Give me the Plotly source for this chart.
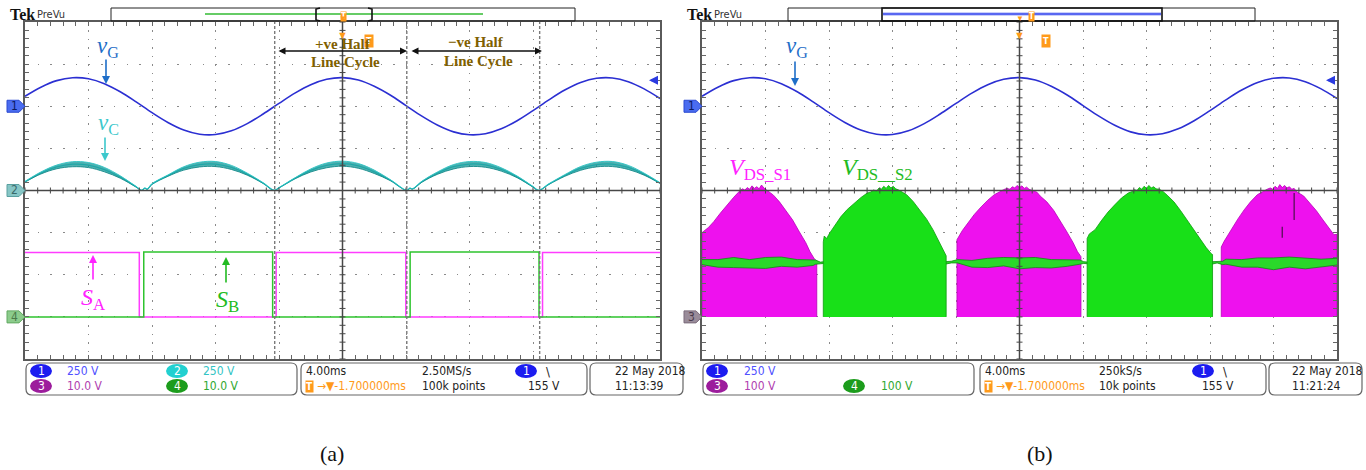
import plotly.graph_objects as go

W, H = 1366, 470
def X(p): return p / W
def Y(p): return 1 - p / H

# ============================ DATA ============================
# time in ms (10 div x 4.00 ms/div), 0 = expansion point (screen centre)
t_vg = [-20,-19,-18,-17,-16,-15,-14,-13,-12,-11,-10,-9,-8,-7,-6,-5,-4,-3,-2,-1,
        0,1,2,3,4,5,6,7,8,9,10,11,12,13,14,15,16,17,18,19,20]
# grid voltage v_G (V), channel 1
vg_a = [59,113,152,169,163,134,86,26,-38,-96,-141,-166,-168,-146,-103,-46,17,78,128,160,
        170,156,119,67,4,-59,-113,-152,-169,-163,-134,-86,-26,38,96,141,166,168,146,103,46]
vg_b = [59,113,152,169,163,134,86,26,-38,-96,-141,-166,-168,-146,-103,-46,17,78,128,160,
        170,156,119,67,4,-59,-113,-152,-169,-163,-134,-86,-26,38,96,141,166,168,146,103,46]

# capacitor voltage v_C (V), channel 2 : mid value and half width of the ripple band
t_vc = [-20,-19,-18,-17,-16,-15,-14,-13,-12.65,-12.45,-12.3,-12,-11,-10,-9,-8,-7,-6,-5,-4.3,
        -4,-3,-2,-1,0,1,2,3,4.05,4.25,4.4,5,6,7,8,9,10,11,12,12.35,13,14,15,16,17,18,19,20]
vc_mid = [52,104,140,156,151,124,80,22,1,14,8,38,88,131,154,157,137,97,44,1,
          16,72,119,149,159,146,111,62,1,14,9,52,104,141,157,152,125,81,22,1,38,89,131,154,157,137,97,44]
vc_nz = [2,6,11,15,15,13,7,2,1,1,1,2,4,10,14,15,12,6,2,1,
         1,3,9,14,15,14,10,3,1,1,1,3,7,13,15,14,10,5,2,1,2,5,11,14,15,12,6,2]

# gate signals S_A (ch3) and S_B (ch4), V
sa_t = [-20, -12.8, -4.18, 3.99, 12.6, 20]
sa_v = [15.3, 0, 15.3, 0, 15.3, 15.3]
sb_t = [-20, -12.52, -4.4, 4.26, 12.38, 20]
sb_v = [0, 15.4, 0, 15.4, 0, 0]
half_cycle_bounds = [-4.27, 4.05, 12.42]

# drain-source voltage envelopes (V) in (b); one list per conducting interval
s1_t = [[-20,-19.6,-19.26,-18.85,-18.43,-18.0,-17.6,-17.45,-17.3,-17.15,-17.0,-16.85,-16.7,-16.55,-16.4,-16.25,-16.1,-15.95,-15.75,-15.5,-15.12,-14.7,-14.29,-13.9,-13.46,-13.2,-12.91,-12.77],
        [-3.94,-3.6,-3.25,-2.85,-2.42,-2.0,-1.59,-1.2,-1.0,-0.8,-0.6,-0.45,-0.3,-0.15,0.0,0.15,0.3,0.45,0.6,0.8,1.1,1.3,1.72,2.15,2.55,2.95,3.38,3.65,3.87],
        [12.71,12.9,13.32,13.75,14.15,14.55,14.98,15.4,15.6,15.8,15.95,16.1,16.25,16.4,16.55,16.7,16.85,17.0,17.15,17.3,17.46,17.9,18.29,18.7,19.12,19.5,19.81,20]]
s1_v = [[200,212,226,246,266,284,300,304,301,307,303,311,305,309,304,313,306,302,297,289,273,252,230,204,176,155,137,133],
        [183,205,223,243,261,277,290,299,302,305,303,309,306,312,307,311,305,308,303,300,296,287,273,253,230,204,176,155,143],
        [166,180,207,232,254,273,290,300,303,306,303,310,305,314,307,312,306,309,303,305,297,287,271,252,230,210,195,196]]
s2_t = [[-12.36,-12.3,-12.15,-11.94,-11.6,-11.25,-10.85,-10.42,-10.0,-9.59,-9.4,-9.2,-9.0,-8.85,-8.7,-8.55,-8.4,-8.25,-8.1,-7.95,-7.8,-7.6,-7.35,-7.11,-6.7,-6.28,-5.85,-5.45,-5.1,-4.76,-4.62],
        [4.26,4.4,4.76,5.15,5.58,6.0,6.42,6.85,7.05,7.24,7.4,7.55,7.7,7.85,8.0,8.15,8.3,8.45,8.6,8.8,9.0,9.3,9.73,10.15,10.56,11.0,11.39,11.75,12.08,12.16]]
s2_v = [[178,192,186,200,220,238,255,270,283,294,296,301,299,306,303,310,305,312,306,310,304,301,296,290,274,254,232,207,180,152,145],
        [186,197,207,228,249,266,282,294,297,302,300,307,303,310,305,312,306,309,304,303,299,289,273,252,230,207,183,165,150,148]]
# S2 off-state voltage band (V) seen across the S1 intervals
band_t = [-20,-19,-18,-17,-16,-15,-14,-13,-12.85,-12.55,-12.3,-11,-10,-9,-8,-7,-6,-5,-4.7,-4.3,
          -3.9,-3.5,-3,-2,-1,0,1,2,3,3.8,4.05,4.3,5,6,7,8,9,10,11,12.1,12.45,12.8,13,14,15,16,17,18,19,20]
band_mid = [130,127,129,126,128,131,127,129,130,128,129,128,128,128,128,128,128,128,128,130,
            132,129,126,128,131,127,129,126,128,130,129,128,128,128,128,128,128,128,128,128,130,128,131,127,129,126,130,127,128,131]
band_half = [6,9,12,10,13,11,9,7,5,2,2,5,5,5,5,5,5,5,3,2,
             4,6,8,11,10,13,12,10,8,5,2,2,5,5,5,5,5,5,5,3,2,4,6,9,11,14,12,13,9,8]
# short dark glitches visible inside the last S1 interval
glitch_t = [17.3, 17.3, None, 16.55, 16.55]
glitch_v = [294, 230, None, 214, 188]

trig_level = 155    # V (ch1 falling edge)
trig_pos = 1.7      # ms

# channel settings : V/div and offset (div)
a_scale = {'1': 250, '2': 250, '3': 10, '4': 10}
b_scale = {'1': 250, '3': 100, '4': 100}
a_off = {'1': 2, '2': 0, '3': -3, '4': -3}
b_off = {'1': 2, '3': -3, '4': -3}

def div(vals, scale, off):
    """volts -> screen divisions, like the scope's vertical scale/position"""
    return [None if v is None else off + v / scale for v in vals]

# ============================ FIGURE ============================
FONT_UI = "Liberation Sans Narrow, DejaVu Sans Condensed, Roboto Condensed, Arial Narrow, Liberation Sans, sans-serif"
SERIF = "Liberation Serif, Times New Roman, DejaVu Serif, serif"

fig = go.Figure()

# --- panel (a) traces ---
fig.add_trace(go.Scatter(x=t_vg, y=div(vg_a, a_scale['1'], a_off['1']), xaxis='x', yaxis='y', mode='lines',
                         line=dict(color='#2b2fd2', width=1.6, shape='spline')))
vc_lo = [m - n for m, n in zip(vc_mid, vc_nz)]
vc_hi = [m + n for m, n in zip(vc_mid, vc_nz)]
fig.add_trace(go.Scatter(x=t_vc, y=div(vc_mid, a_scale['2'], a_off['2']), xaxis='x', yaxis='y', mode='lines',
                         line=dict(color='#3adcdc', width=1.3, shape='spline')))
fig.add_trace(go.Scatter(x=t_vc, y=div(vc_lo, a_scale['2'], a_off['2']), xaxis='x', yaxis='y', mode='lines',
                         line=dict(color='#158a8a', width=0.9, shape='spline')))
fig.add_trace(go.Scatter(x=t_vc, y=div(vc_hi, a_scale['2'], a_off['2']), xaxis='x', yaxis='y', mode='lines',
                         fill='tonexty', fillcolor='rgba(22,150,150,0.75)',
                         line=dict(color='#2cc4c4', width=0.9, shape='spline')))
fig.add_trace(go.Scatter(x=sa_t, y=div(sa_v, a_scale['3'], a_off['3']), xaxis='x', yaxis='y', mode='lines',
                         line=dict(color='#ff3cff', width=1.5, shape='hv')))
fig.add_trace(go.Scatter(x=sb_t, y=div(sb_v, a_scale['4'], a_off['4']), xaxis='x', yaxis='y', mode='lines',
                         line=dict(color='#2ec42e', width=1.5, shape='hv')))

# --- panel (b) traces ---
fig.add_trace(go.Scatter(x=t_vg, y=div(vg_b, b_scale['1'], b_off['1']), xaxis='x2', yaxis='y2', mode='lines',
                         line=dict(color='#2b2fd2', width=1.6, shape='spline')))

def polys(ts, vs):
    px_, py_ = [], []
    for tt, vv in zip(ts, vs):
        px_ += [tt[0]] + tt + [tt[-1], None]
        py_ += [0] + vv + [0, None]
    return px_, py_

p1x, p1y = polys(s1_t, s1_v)
fig.add_trace(go.Scatter(x=p1x, y=div(p1y, b_scale['3'], b_off['3']), xaxis='x2', yaxis='y2', mode='lines',
                         fill='toself', fillcolor='#ee11ee', line=dict(color='#b800b8', width=0.8)))
fig.add_trace(go.Scatter(x=glitch_t, y=div(glitch_v, b_scale['3'], b_off['3']), xaxis='x2', yaxis='y2',
                         mode='lines', line=dict(color='#4a104a', width=1.2)))
b_lo = [m - h for m, h in zip(band_mid, band_half)]
b_hi = [m + h for m, h in zip(band_mid, band_half)]
fig.add_trace(go.Scatter(x=band_t, y=div(b_lo, b_scale['4'], b_off['4']), xaxis='x2', yaxis='y2', mode='lines',
                         line=dict(color='#128a12', width=0.8)))
fig.add_trace(go.Scatter(x=band_t, y=div(b_hi, b_scale['4'], b_off['4']), xaxis='x2', yaxis='y2', mode='lines',
                         fill='tonexty', fillcolor='#2ad82a', line=dict(color='#128a12', width=0.8)))
p2x, p2y = polys(s2_t, s2_v)
fig.add_trace(go.Scatter(x=p2x, y=div(p2y, b_scale['4'], b_off['4']), xaxis='x2', yaxis='y2', mode='lines',
                         fill='toself', fillcolor='#18e018', line=dict(color='#0c9c0c', width=0.8)))

fig.update_traces(showlegend=False, hoverinfo='skip')

# --- axes (screen graticule: 10 x 8 divisions) ---
base = dict(showticklabels=False, showline=True, linecolor='#5a5a5a', linewidth=2,
            mirror='allticks', ticks='inside', ticklen=4, tickcolor='#666', tickwidth=1,
            showgrid=True, gridcolor='#8a8a8a', gridwidth=1.4, zeroline=False, fixedrange=True)
xa = dict(base, range=[-20, 20], tick0=0, dtick=4, griddash='1.4px,7.03px',
          minor=dict(dtick=0.8, tick0=0, ticks='inside', ticklen=4, tickcolor='#666', showgrid=False))
ya = dict(base, range=[-4, 4], tick0=0, dtick=1, griddash='1.4px,11.3px',
          minor=dict(dtick=0.2, tick0=0, ticks='inside', ticklen=4, tickcolor='#666', showgrid=False))
ydom = [Y(359), Y(22)]
fig.update_layout(
    xaxis=dict(xa, domain=[X(25), X(660)], anchor='y'),
    yaxis=dict(ya, domain=ydom, anchor='x'),
    xaxis2=dict(xa, domain=[X(702), X(1337)], anchor='y2'),
    yaxis2=dict(ya, domain=ydom, anchor='x2'),
)

ann, shapes = [], []

def text(x, y, s, color='#222', size=12, family=FONT_UI, xanchor='left', xref='paper', yref='paper', **kw):
    ann.append(dict(x=X(x) if xref == 'paper' else x, y=Y(y) if yref == 'paper' else y,
                    xref=xref, yref=yref, text=s, showarrow=False, xanchor=xanchor,
                    yanchor='middle', font=dict(color=color, size=size, family=family), **kw))

def arrow(xh, yh, xt, yt, color, width=1.6, both=False, size=1.0):
    d = dict(x=X(xh), y=Y(yh), xref='paper', yref='paper', ax=xt - xh, ay=yt - yh,
             text='', showarrow=True, arrowhead=2, arrowsize=size, arrowwidth=width, arrowcolor=color)
    if both:
        d.update(arrowside='end+start', startarrowhead=2, startarrowsize=size)
    ann.append(d)

def rect(x0, y0, x1, y1, color='#111', width=1, fill=None):
    shapes.append(dict(type='rect', xref='paper', yref='paper', x0=X(x0), x1=X(x1), y0=Y(y1), y1=Y(y0),
                       line=dict(color=color, width=width), fillcolor=fill, layer='above'))

def line(x0, y0, x1, y1, color, width=1):
    shapes.append(dict(type='line', xref='paper', yref='paper', x0=X(x0), x1=X(x1), y0=Y(y0), y1=Y(y1),
                       line=dict(color=color, width=width), layer='above'))

def rrect(x0, y0, x1, y1, r=6, color='#666', width=1.2):
    P = lambda a, b: f"{X(a):.5f},{Y(b):.5f}"
    path = (f"M{P(x0+r,y0)} L{P(x1-r,y0)} Q{P(x1,y0)} {P(x1,y0+r)} L{P(x1,y1-r)} Q{P(x1,y1)} {P(x1-r,y1)} "
            f"L{P(x0+r,y1)} Q{P(x0,y1)} {P(x0,y1-r)} L{P(x0,y0+r)} Q{P(x0,y0)} {P(x0+r,y0)} Z")
    shapes.append(dict(type='path', xref='paper', yref='paper', path=path,
                       line=dict(color=color, width=width), layer='above'))

def pill(cx, cy, n, color):
    shapes.append(dict(type='circle', xref='paper', yref='paper', x0=X(cx - 11), x1=X(cx + 11),
                       y0=Y(cy + 7), y1=Y(cy - 7), fillcolor=color, line=dict(width=0), layer='above'))
    text(cx, cy, n, '#ffffff', 12, xanchor='center')

def ch_marker(xedge, yref, off, n, fill, edge, fg):
    shapes.append(dict(type='path', xref='paper', yref=yref, xsizemode='pixel', ysizemode='pixel',
                       xanchor=X(xedge), yanchor=off, path='M-18,6 L-6,6 L0,0 L-6,-6 L-18,-6 Z',
                       fillcolor=fill, line=dict(color=edge, width=1), layer='above'))
    ann.append(dict(x=X(xedge - 11), y=off, xref='paper', yref=yref, text=n, showarrow=False,
                    xanchor='center', yanchor='middle', font=dict(color=fg, size=12, family=FONT_UI)))

def tmark(x, y, xref):
    ann.append(dict(x=x, y=Y(y), xref=xref, yref='paper', text='<b>T</b>', showarrow=False,
                    bgcolor='#ff9a1a', borderpad=1, font=dict(color='#fff', size=9, family=FONT_UI)))

# ---- centre crosshair with its 1/5-division ticks ----
for xr, yr in [('x', 'y'), ('x2', 'y2')]:
    shapes.append(dict(type='line', xref=xr + ' domain', yref=yr + ' domain', x0=0.5, x1=0.5, y0=0, y1=1,
                       line=dict(color='#474747', width=1.5), layer='above'))
    shapes.append(dict(type='line', xref=xr + ' domain', yref=yr + ' domain', x0=0, x1=1, y0=0.5, y1=0.5,
                       line=dict(color='#474747', width=1.5), layer='above'))
    for k in range(-25, 26):
        tx = k * 0.8
        shapes.append(dict(type='line', xref=xr, yref=yr, x0=tx, x1=tx, ysizemode='pixel', yanchor=0,
                           y0=-3, y1=3, line=dict(color='#474747', width=1), layer='above'))
    for k in range(-20, 21):
        ty = k * 0.2
        shapes.append(dict(type='line', xref=xr, yref=yr, y0=ty, y1=ty, xsizemode='pixel', xanchor=0,
                           x0=-3, x1=3, line=dict(color='#474747', width=1), layer='above'))
for b in half_cycle_bounds:
    shapes.append(dict(type='line', xref='x', yref='y domain', x0=b, x1=b, y0=0, y1=1,
                       line=dict(color='#7a7a7a', width=1.4, dash='3px,2px'), layer='above'))

# ---- headers ----
for x0, bar in [(0, (111, 575)), (677, (788, 1255))]:
    text(8 + x0, 14, '<b>Tek</b>', '#111', 16, SERIF)
    text(35 + x0, 14, 'PreVu', '#333', 11)
    rect(bar[0], 8, bar[1], 21, '#222', 1)
line(205, 14, 483, 14, '#33bb33', 1.5)
shapes.append(dict(type='path', xref='paper', yref='paper', layer='above', line=dict(color='#111', width=1.6),
                   path=f"M{X(320)},{Y(8)} L{X(316)},{Y(9)} L{X(316)},{Y(20)} L{X(320)},{Y(21)}"))
shapes.append(dict(type='path', xref='paper', yref='paper', layer='above', line=dict(color='#111', width=1.6),
                   path=f"M{X(368)},{Y(8)} L{X(372)},{Y(9)} L{X(372)},{Y(20)} L{X(368)},{Y(21)}"))
line(883, 14, 1161, 14, '#c9cffa', 4)
line(883, 14, 1161, 14, '#3344ee', 1.3)
rect(882, 8, 1162, 21, '#111', 1.6)
# orange trigger / expansion markers
for xref, hx in [('x', 343), ('x2', 1031)]:
    text(hx, 16, '<b>T</b>', '#fff', 8, bgcolor='#ff9a1a', borderpad=0, xanchor='center')
    ann.append(dict(x=0, y=Y(10), xref=xref, yref='paper', text='▼', showarrow=False,
                    font=dict(color='#ff9a1a', size=8)))
    ann.append(dict(x=0, y=Y(25), xref=xref, yref='paper', text='▼', showarrow=False,
                    font=dict(color='#ff9a1a', size=11)))
    tmark(trig_pos, 34, xref)
# trigger level indicator (blue arrow at the right border)
for yref, xr, sc, off in [('y', 649, a_scale['1'], a_off['1']), ('y2', 1326, b_scale['1'], b_off['1'])]:
    ann.append(dict(x=X(xr), y=off + trig_level / sc, xref='paper', yref=yref, ax=10, ay=0, text='',
                    showarrow=True, arrowhead=2, arrowsize=0.9, arrowwidth=2, arrowcolor='#2b3be0'))

# channel markers
ch_marker(25, 'y', a_off['1'], '1', '#4a6cf0', '#2a48d0', '#0a1a60')
ch_marker(25, 'y', a_off['2'], '2', '#86c6c6', '#5aa0a0', '#3a6a6a')
ch_marker(25, 'y', a_off['4'], '4', '#8ccc8c', '#60a860', '#4a7a4a')
ch_marker(702, 'y2', b_off['1'], '1', '#4a6cf0', '#2a48d0', '#0a1a60')
ch_marker(702, 'y2', b_off['3'], '3', '#9a8c9a', '#7a6a7a', '#4a3a4a')

# ---- info boxes ----
for bx in [(26, 297), (301, 587), (590, 683), (703, 974), (980, 1266), (1269, 1362)]:
    rrect(bx[0], 363, bx[1], 395)
r1, r2 = 371, 386
C1, C2, C3, C4 = '#1c1cf0', '#22d0d0', '#9c1c9c', '#1c9c1c'
# (a)
pill(41, r1, '1', C1); text(65, r1, '250 V', '#5050ff')
pill(177, r1, '2', C2); text(201, r1, '250 V', '#33c4c4')
pill(41, r2, '3', C3); text(65, r2, '10.0 V', '#b040b0')
pill(177, r2, '4', C4); text(201, r2, '10.0 V', '#30a830')
text(304, r1, '4.00ms'); text(420, r1, '2.50MS/s')
pill(526, r1, '1', C1); text(544, r1, '\\', '#222', 13)
text(309, r2, '<b>T</b>', '#fff', 10, bgcolor='#ff9a1a', borderpad=0, xanchor='center')
text(315, r2, '→▼-1.700000ms', '#ff9a1a')
text(420, r2, '100k points'); text(526, r2, '155 V')
text(613, r1, '22 May 2018'); text(613, r2, '11:13:39')
# (b)
pill(717, r1, '1', C1); text(742, r1, '250 V', '#5050ff')
pill(717, r2, '3', C3); text(742, r2, '100 V', '#b040b0')
pill(854, r2, '4', C4); text(879, r2, '100 V', '#30a830')
text(983, r1, '4.00ms'); text(1097, r1, '250kS/s')
pill(1203, r1, '1', C1); text(1221, r1, '\\', '#222', 13)
text(988, r2, '<b>T</b>', '#fff', 10, bgcolor='#ff9a1a', borderpad=0, xanchor='center')
text(994, r2, '→▼-1.700000ms', '#ff9a1a')
text(1097, r2, '10k points'); text(1200, r2, '155 V')
text(1290, r1, '22 May 2018'); text(1290, r2, '11:21:24')

# ---- signal labels ----
BLUE_L, CYAN_L, MAG_L, GRN_L, BROWN = '#1e6ec8', '#3cc8cc', '#ff22ff', '#22bb22', '#7f6000'
text(108, 47, '<i>v</i><sub>G</sub>', BLUE_L, 23, SERIF, xanchor='center')
arrow(106, 84, 106, 58, BLUE_L)
text(108, 124, '<i>v</i><sub>C</sub>', CYAN_L, 23, SERIF, xanchor='center')
arrow(105, 161, 105, 136, CYAN_L)
text(93, 299, '<i>S</i><sub>A</sub>', MAG_L, 24, SERIF, xanchor='center')
arrow(93, 255, 93, 281, MAG_L)
text(227, 301, '<i>S</i><sub>B</sub>', GRN_L, 24, SERIF, xanchor='center')
arrow(226, 257, 226, 284, GRN_L)
text(343, 44, '<b>+ve Half</b>', BROWN, 15, SERIF, xanchor='center')
text(345, 62, '<b>Line Cycle</b>', BROWN, 15, SERIF, xanchor='center')
text(476, 42, '<b>−ve Half</b>', BROWN, 15, SERIF, xanchor='center')
text(478, 61, '<b>Line Cycle</b>', BROWN, 15, SERIF, xanchor='center')
arrow(407, 51, 277, 51, '#111', 1.4, both=True)
arrow(542, 51, 410, 51, '#111', 1.4, both=True)

text(797, 47, '<i>v</i><sub>G</sub>', BLUE_L, 23, SERIF, xanchor='center')
arrow(795, 86, 795, 60, BLUE_L)
text(760, 169, '<i>V</i><sub>DS_S1</sub>', MAG_L, 24, SERIF, xanchor='center')
text(877, 169, '<i>V</i><sub>DS__S2</sub>', GRN_L, 24, SERIF, xanchor='center')

text(332, 453, '(a)', '#111', 22, SERIF, xanchor='center')
text(1040, 453, '(b)', '#111', 22, SERIF, xanchor='center')

fig.update_layout(width=W, height=H, autosize=False, margin=dict(l=0, r=0, t=0, b=0),
                  paper_bgcolor='white', plot_bgcolor='white', showlegend=False,
                  annotations=ann, shapes=shapes)
fig.write_html("out.html")
